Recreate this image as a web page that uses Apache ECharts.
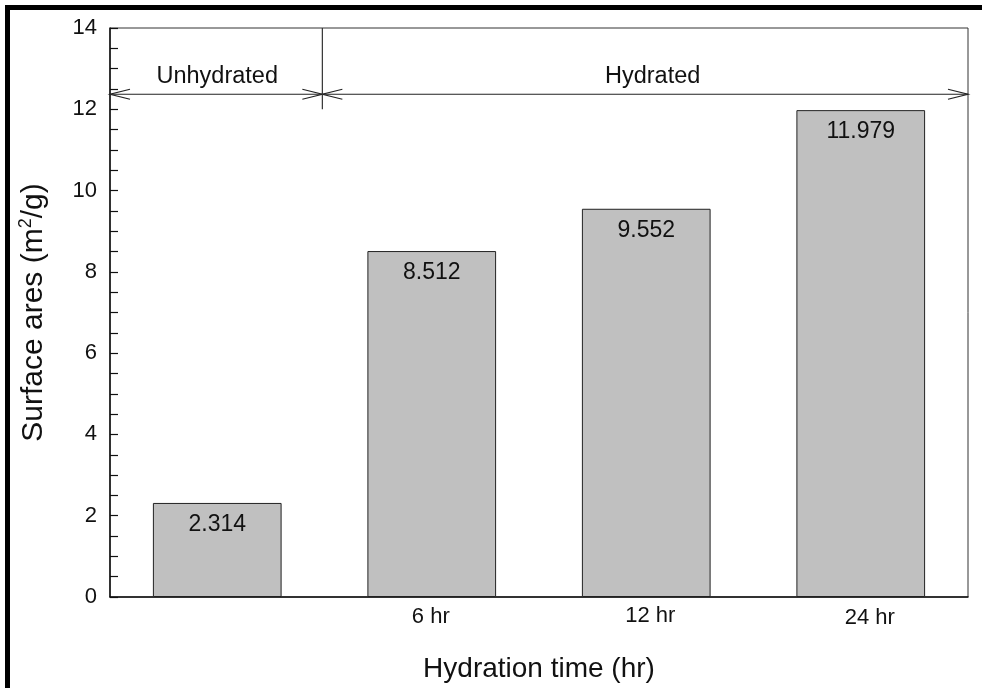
<!DOCTYPE html>
<html>
<head>
<meta charset="utf-8">
<script src="https://cdn.jsdelivr.net/npm/echarts@6/dist/echarts.min.js"></script>
<style>
  html, body { margin: 0; padding: 0; background: #fff; }
  #chart { width: 982px; height: 688px; }
</style>
</head>
<body>
<div id="chart"></div>
<script>
// Hydration time categories and measured surface area (m2/g)
const categories = ['', '6 hr', '12 hr', '24 hr'];
const surfaceArea = [2.314, 8.512, 9.552, 11.979];

// Y axis range and tick step
const yMin = 0;
const yMax = 14;
const yStep = 2;

// Bracket annotations above the bars (x in category-band units, 0..4)
const spanNames = ['Unhydrated', 'Hydrated'];
const spanStart = [0, 0.99];
const spanEnd = [0.99, 4];
const spanLevel = 12.37;
const spanLabelX = [0.5, 2.53];
const spanLabelLevel = 12.8;
const dividerX = 0.99;
const dividerRange = [12.0, 14];

const FONT = "'Liberation Sans', Arial, Helvetica, sans-serif";

const chart = echarts.init(document.getElementById('chart'), null, { renderer: 'canvas' });

const catLabelPad = [[0, 0, 0, 0], [1, 2, 0, 0], [0, 0, 0, 8], [2, 0, 0, 18]];
const catRich = {};
catLabelPad.forEach((p, i) => {
  catRich['c' + i] = { fontSize: 22, fontFamily: FONT, color: '#111', padding: p };
});

const option = {
  animation: false,
  backgroundColor: '#fff',
  grid: {
    left: 110, right: 14, top: 28, bottom: 90,
    show: true, borderColor: '#333', borderWidth: 1, backgroundColor: 'transparent'
  },
  graphic: [
    { type: 'rect', shape: { x: 5, y: 5, width: 977, height: 5 }, style: { fill: '#000' }, z: 100 },
    { type: 'rect', shape: { x: 5, y: 5, width: 5, height: 683 }, style: { fill: '#000' }, z: 100 }
  ],
  xAxis: [
    {
      type: 'category',
      data: categories,
      axisLine: { lineStyle: { color: '#111', width: 1.5 } },
      axisTick: { show: false },
      axisLabel: {
        margin: 8,
        formatter: (v, i) => '{c' + i + '|' + v + '}',
        rich: catRich
      },
      splitLine: { show: false },
      name: 'Hydration time (hr)',
      nameLocation: 'middle',
      nameGap: 58,
      nameTextStyle: { fontSize: 28, fontFamily: FONT, color: '#111' }
    },
    {
      type: 'value',
      min: 0, max: 4,
      show: false,
      position: 'bottom'
    }
  ],
  yAxis: {
    type: 'value',
    min: yMin, max: yMax, interval: yStep,
    axisLine: { show: true, lineStyle: { color: '#111', width: 1.5 } },
    axisTick: { show: true, inside: true, length: 8, lineStyle: { color: '#111', width: 1.2 } },
    minorTick: { show: true, splitNumber: 4, length: 8, lineStyle: { color: '#111', width: 1.2 } },
    splitLine: { show: false },
    axisLabel: { fontSize: 22, fontFamily: FONT, color: '#111', margin: 13 },
    name: 'Surface ares (m{sup|2}/g)',
    nameLocation: 'middle',
    nameGap: 60,
    nameTextStyle: {
      fontSize: 30, fontFamily: FONT, color: '#111',
      rich: {
        sup: { fontSize: 18, fontFamily: FONT, color: '#111', padding: [0, 0, 15, 0] }
      }
    }
  },
  series: [
    {
      type: 'bar',
      data: surfaceArea,
      barWidth: '60%',
      itemStyle: { color: '#c0c0c0', borderColor: '#222', borderWidth: 1 },
      label: {
        show: true,
        position: 'insideTop',
        distance: 10,
        fontSize: 23,
        fontFamily: FONT,
        color: '#111',
        formatter: (p) => p.value.toFixed(3)
      }
    },
    {
      type: 'line',
      xAxisIndex: 1,
      yAxisIndex: 0,
      data: [[dividerX, dividerRange[0]], [dividerX, dividerRange[1]]],
      symbol: 'none',
      clip: false,
      lineStyle: { color: '#333', width: 1.2 },
      silent: true
    },
    {
      type: 'custom',
      xAxisIndex: 1,
      yAxisIndex: 0,
      clip: false,
      silent: true,
      data: spanNames.map((n, i) => [spanStart[i], spanEnd[i], spanLevel, spanLabelX[i], spanLabelLevel]),
      renderItem: (params, api) => {
        const i = params.dataIndex;
        const a = api.coord([api.value(0), api.value(2)]);
        const b = api.coord([api.value(1), api.value(2)]);
        const t = api.coord([api.value(3), api.value(4)]);
        const len = 20, half = 5;
        const ls = { stroke: '#222', lineWidth: 1.2, fill: null };
        return {
          type: 'group',
          children: [
            { type: 'line', shape: { x1: a[0], y1: a[1], x2: b[0], y2: b[1] }, style: ls },
            { type: 'polyline', shape: { points: [[a[0] + len, a[1] - half], [a[0], a[1]], [a[0] + len, a[1] + half]] }, style: ls },
            { type: 'polyline', shape: { points: [[b[0] - len, b[1] - half], [b[0], b[1]], [b[0] - len, b[1] + half]] }, style: ls },
            {
              type: 'text',
              style: {
                x: t[0], y: t[1], text: spanNames[i],
                fontSize: 23.5, fontFamily: FONT, fill: '#111',
                align: 'center', verticalAlign: 'middle'
              }
            }
          ]
        };
      }
    }
  ]
};

chart.setOption(option);
</script>
</body>
</html>
